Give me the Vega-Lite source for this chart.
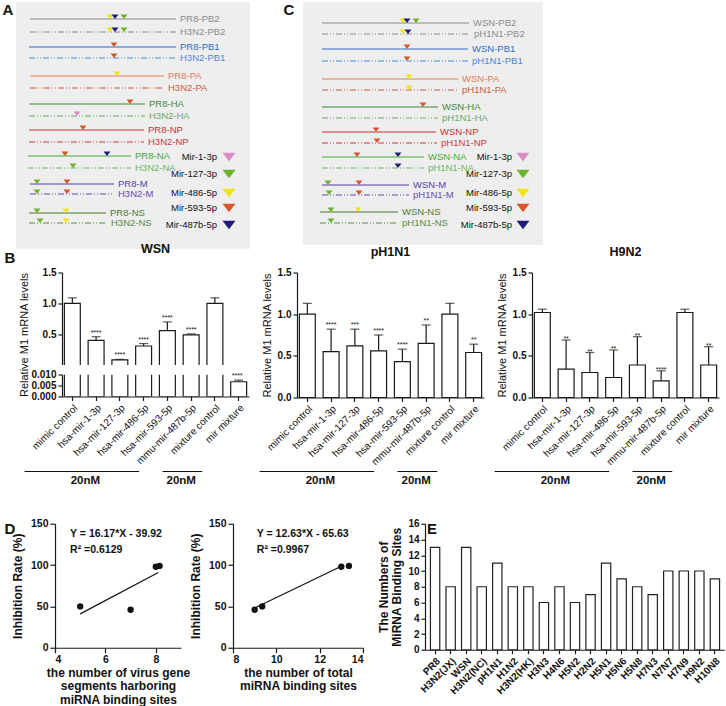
{
"$schema":"https://vega.github.io/schema/vega-lite/v6.json",
"padding":{"left":0,"top":2,"right":0,"bottom":0},
"background":"white",
"config":{
 "font":"Liberation Sans",
 "view":{"stroke":null},
 "axis":{"grid":false,"domainColor":"#1a1a1a","tickColor":"#1a1a1a","labelColor":"#111111","titleColor":"#111111","domainWidth":1.2,"tickWidth":1.2,"tickSize":4,"labelFontSize":10,"labelFontWeight":"bold","titleFontSize":11,"titleFontWeight":"normal","labelPadding":2,"labelOverlap":false},
 "title":{"fontSize":12.5,"fontWeight":"bold","color":"#111111"},
 "text":{"color":"#111111"}
},
"datasets":{
 "segA":[
  {"label":"PR8-PB2","strain":"PR8","start":14,"end":160,"lane":17},
  {"label":"H3N2-PB2","strain":"H3N2","start":14,"end":160,"lane":30},
  {"label":"PR8-PB1","strain":"PR8","start":13,"end":160,"lane":45},
  {"label":"H3N2-PB1","strain":"H3N2","start":13,"end":160,"lane":56},
  {"label":"PR8-PA","strain":"PR8","start":14,"end":148,"lane":74},
  {"label":"H3N2-PA","strain":"H3N2","start":14,"end":148,"lane":86},
  {"label":"PR8-HA","strain":"PR8","start":13,"end":129,"lane":102},
  {"label":"H3N2-HA","strain":"H3N2","start":13,"end":129,"lane":114},
  {"label":"PR8-NP","strain":"PR8","start":13,"end":128,"lane":128},
  {"label":"H3N2-NP","strain":"H3N2","start":13,"end":128,"lane":140},
  {"label":"PR8-NA","strain":"PR8","start":12,"end":115,"lane":154},
  {"label":"H3N2-NA","strain":"H3N2","start":12,"end":115,"lane":166},
  {"label":"PR8-M","strain":"PR8","start":14,"end":98,"lane":182},
  {"label":"H3N2-M","strain":"H3N2","start":14,"end":98,"lane":192},
  {"label":"PR8-NS","strain":"PR8","start":13,"end":90,"lane":211},
  {"label":"H3N2-NS","strain":"H3N2","start":13,"end":91,"lane":221}
 ],
 "triA":[
  {"lane":17,"pos":94,"mirna":"Mir-486-5p"},{"lane":17,"pos":108,"mirna":"Mir-127-3p"},{"lane":17,"pos":99,"mirna":"Mir-487b-5p"},
  {"lane":30,"pos":94,"mirna":"Mir-486-5p"},{"lane":30,"pos":108,"mirna":"Mir-127-3p"},{"lane":30,"pos":99,"mirna":"Mir-487b-5p"},
  {"lane":45,"pos":98,"mirna":"Mir-593-5p"},{"lane":56,"pos":98,"mirna":"Mir-593-5p"},
  {"lane":74,"pos":101,"mirna":"Mir-486-5p"},
  {"lane":102,"pos":114,"mirna":"Mir-593-5p"},{"lane":114,"pos":61,"mirna":"Mir-1-3p"},
  {"lane":128,"pos":67,"mirna":"Mir-593-5p"},
  {"lane":154,"pos":49,"mirna":"Mir-593-5p"},{"lane":154,"pos":91,"mirna":"Mir-487b-5p"},{"lane":166,"pos":57,"mirna":"Mir-127-3p"},
  {"lane":182,"pos":21,"mirna":"Mir-127-3p"},{"lane":182,"pos":51,"mirna":"Mir-593-5p"},
  {"lane":192,"pos":21,"mirna":"Mir-127-3p"},{"lane":192,"pos":51,"mirna":"Mir-593-5p"},
  {"lane":211,"pos":21,"mirna":"Mir-127-3p"},{"lane":211,"pos":50,"mirna":"Mir-486-5p"},
  {"lane":221,"pos":24,"mirna":"Mir-127-3p"},{"lane":221,"pos":50,"mirna":"Mir-486-5p"}
 ],
 "segC":[
  {"label":"WSN-PB2","strain":"WSN","start":19,"end":166,"lane":21},
  {"label":"pH1N1-PB2","strain":"pH1N1","start":19,"end":167,"lane":32},
  {"label":"WSN-PB1","strain":"WSN","start":19,"end":165,"lane":47},
  {"label":"pH1N1-PB1","strain":"pH1N1","start":19,"end":165,"lane":59},
  {"label":"WSN-PA","strain":"WSN","start":19,"end":155,"lane":77},
  {"label":"pH1N1-PA","strain":"pH1N1","start":19,"end":155,"lane":88},
  {"label":"WSN-HA","strain":"WSN","start":19,"end":135,"lane":105},
  {"label":"pH1N1-HA","strain":"pH1N1","start":19,"end":135,"lane":116},
  {"label":"WSN-NP","strain":"WSN","start":19,"end":133,"lane":130},
  {"label":"pH1N1-NP","strain":"pH1N1","start":19,"end":134,"lane":141},
  {"label":"WSN-NA","strain":"WSN","start":19,"end":121,"lane":155},
  {"label":"pH1N1-NA","strain":"pH1N1","start":19,"end":121,"lane":166},
  {"label":"WSN-M","strain":"WSN","start":19,"end":106,"lane":183},
  {"label":"pH1N1-M","strain":"pH1N1","start":19,"end":106,"lane":193},
  {"label":"WSN-NS","strain":"WSN","start":17,"end":95,"lane":210},
  {"label":"pH1N1-NS","strain":"pH1N1","start":17,"end":95,"lane":221}
 ],
 "triC":[
  {"lane":21,"pos":100,"mirna":"Mir-486-5p"},{"lane":21,"pos":113,"mirna":"Mir-127-3p"},{"lane":21,"pos":104,"mirna":"Mir-487b-5p"},
  {"lane":32,"pos":100,"mirna":"Mir-486-5p"},{"lane":32,"pos":105,"mirna":"Mir-487b-5p"},
  {"lane":47,"pos":104,"mirna":"Mir-593-5p"},{"lane":59,"pos":104,"mirna":"Mir-593-5p"},
  {"lane":77,"pos":106,"mirna":"Mir-486-5p"},{"lane":88,"pos":106,"mirna":"Mir-486-5p"},
  {"lane":105,"pos":120,"mirna":"Mir-593-5p"},
  {"lane":130,"pos":73,"mirna":"Mir-593-5p"},{"lane":141,"pos":74,"mirna":"Mir-593-5p"},
  {"lane":155,"pos":54,"mirna":"Mir-593-5p"},{"lane":155,"pos":95,"mirna":"Mir-487b-5p"},
  {"lane":166,"pos":95,"mirna":"Mir-487b-5p"},
  {"lane":183,"pos":25,"mirna":"Mir-127-3p"},{"lane":183,"pos":56,"mirna":"Mir-593-5p"},
  {"lane":193,"pos":26,"mirna":"Mir-127-3p"},{"lane":193,"pos":56,"mirna":"Mir-593-5p"},
  {"lane":210,"pos":28,"mirna":"Mir-127-3p"},{"lane":210,"pos":55,"mirna":"Mir-486-5p"},
  {"lane":221,"pos":28,"mirna":"Mir-127-3p"}
 ],
 "leg":[
  {"mirna":"Mir-1-3p","lane":155},{"mirna":"Mir-127-3p","lane":172},{"mirna":"Mir-486-5p","lane":191},{"mirna":"Mir-593-5p","lane":206},{"mirna":"Mir-487b-5p","lane":223}
 ],
 "wsn":[
  {"cat":"mimic control","val":1.0,"hi":1.09,"sig":""},
  {"cat":"hsa-mir-1-3p","val":0.40,"hi":0.46,"sig":"****"},
  {"cat":"hsa-mir-127-3p","val":0.085,"hi":0.092,"sig":"****"},
  {"cat":"hsa-mir-486-5p","val":0.31,"hi":0.35,"sig":"****"},
  {"cat":"hsa-mir-593-5p","val":0.56,"hi":0.70,"sig":"****"},
  {"cat":"mmu-mir-487b-5p","val":0.49,"hi":0.505,"sig":"****"},
  {"cat":"mixture control","val":1.0,"hi":1.09,"sig":""},
  {"cat":"mir mixture","val":0.0067,"hi":0.0074,"sig":"****"}
 ],
 "ph1n1":[
  {"cat":"mimic control","val":1.0,"hi":1.13,"sig":""},
  {"cat":"hsa-mir-1-3p","val":0.55,"hi":0.82,"sig":"****"},
  {"cat":"hsa-mir-127-3p","val":0.62,"hi":0.82,"sig":"***"},
  {"cat":"hsa-mir-486-5p","val":0.56,"hi":0.75,"sig":"****"},
  {"cat":"hsa-mir-593-5p","val":0.43,"hi":0.58,"sig":"****"},
  {"cat":"mmu-mir-487b-5p","val":0.65,"hi":0.87,"sig":"**"},
  {"cat":"mixture control","val":1.0,"hi":1.13,"sig":""},
  {"cat":"mir mixture","val":0.54,"hi":0.64,"sig":"**"}
 ],
 "h9n2":[
  {"cat":"mimic control","val":1.02,"hi":1.06,"sig":""},
  {"cat":"hsa-mir-1-3p","val":0.34,"hi":0.69,"sig":"**"},
  {"cat":"hsa-mir-127-3p","val":0.30,"hi":0.54,"sig":"**"},
  {"cat":"hsa-mir-486-5p","val":0.24,"hi":0.57,"sig":"**"},
  {"cat":"hsa-mir-593-5p","val":0.39,"hi":0.73,"sig":"**"},
  {"cat":"mmu-mir-487b-5p","val":0.20,"hi":0.32,"sig":"****"},
  {"cat":"mixture control","val":1.02,"hi":1.06,"sig":""},
  {"cat":"mir mixture","val":0.39,"hi":0.61,"sig":"**"}
 ],
 "conc":[
  {"from":-1.6,"to":3.3,"mid":1.0,"label":"20nM"},
  {"from":4.3,"to":6.0,"mid":5.1,"label":"20nM"}
 ],
 "d1pts":[{"x":5,"y":50},{"x":7,"y":46},{"x":8,"y":98},{"x":8.15,"y":99}],
 "d1fit":[{"x":5,"y":41},{"x":8.1,"y":91}],
 "d1txt":[{"x":4.6,"y":137,"t":"Y = 16.17*X - 39.92"},{"x":4.6,"y":118,"t":"R² =0.6129"}],
 "d2pts":[{"x":9,"y":46},{"x":9.35,"y":50},{"x":13,"y":98},{"x":13.35,"y":99}],
 "d2fit":[{"x":9,"y":48},{"x":13,"y":98.5}],
 "d2txt":[{"x":9.1,"y":137,"t":"Y = 12.63*X - 65.63"},{"x":9.1,"y":118,"t":"R² =0.9967"}],
 "e":[
  {"s":"PR8","n":13},{"s":"H3N2(JX)","n":8},{"s":"WSN","n":13},{"s":"H3N2(NC)","n":8},{"s":"pH1N1","n":11},{"s":"H1N2","n":8},{"s":"H3N2(HK)","n":8},{"s":"H3N3","n":6},{"s":"H4N6","n":8},{"s":"H5N2","n":6},{"s":"H2N2","n":7},{"s":"H5N1","n":11},{"s":"H5N6","n":9},{"s":"H5N8","n":8},{"s":"H7N3","n":7},{"s":"N7N7","n":10},{"s":"H7N9","n":10},{"s":"H9N2","n":10},{"s":"H10N8","n":9}
 ]
},
"vconcat":[
 {"vconcat":[
  {"hconcat":[
   {"width":16,"height":20,"data":{"values":[{"t":"A"}]},"mark":{"type":"text","fontSize":15,"fontWeight":"bold","dy":-2},"encoding":{"text":{"field":"t","type":"nominal"}}},
   {"width":234,"height":247,
    "view":{"fill":"#eeeeee","stroke":null},
    "layer":[
     {"data":{"name":"segA"},"mark":{"type":"rule","strokeWidth":1.2},
      "encoding":{
       "x":{"field":"start","type":"quantitative","scale":{"domain":[0,234],"nice":false,"zero":false},"axis":null},
       "x2":{"field":"end"},
       "y":{"field":"lane","type":"quantitative","scale":{"domain":[0,247],"nice":false,"zero":false,"reverse":true},"axis":null},
       "color":{"field":"label","type":"nominal","scale":{"domain":["PR8-PB2","H3N2-PB2","PR8-PB1","H3N2-PB1","PR8-PA","H3N2-PA","PR8-HA","H3N2-HA","PR8-NP","H3N2-NP","PR8-NA","H3N2-NA","PR8-M","H3N2-M","PR8-NS","H3N2-NS"],"range":["#8c8c8c","#8c8c8c","#2f6cc8","#4a88d8","#e27c5a","#cc5a3c","#3c8a3c","#6aaa6a","#c83232","#c43c3c","#46a83a","#6ab860","#5a3aa8","#6a48b4","#4a7a2e","#5a8a40"]},"legend":null},
       "strokeDash":{"field":"strain","type":"nominal","scale":{"domain":["PR8","H3N2"],"range":[[1,0],[6,2,1,2,1,2]]},"legend":null}}},
     {"data":{"name":"segA"},"mark":{"type":"text","align":"left","baseline":"middle","dx":4,"fontSize":9.5},
      "encoding":{"x":{"field":"end","type":"quantitative"},"y":{"field":"lane","type":"quantitative"},"text":{"field":"label","type":"nominal"},"color":{"field":"label","type":"nominal","legend":null}}},
     {"data":{"name":"triA"},"mark":{"type":"point","filled":true,"opacity":1,"strokeWidth":0,"shape":"M-1,-1.3L1,-1.3L0,0Z","size":49},
      "encoding":{"x":{"field":"pos","type":"quantitative"},"y":{"field":"lane","type":"quantitative"},"fill":{"field":"mirna","type":"nominal","scale":{"domain":["Mir-1-3p","Mir-127-3p","Mir-486-5p","Mir-593-5p","Mir-487b-5p"],"range":["#d98ec6","#6cb42c","#f0e21c","#d4582a","#1e1e78"]},"legend":null}}},
     {"data":{"name":"leg"},"mark":{"type":"text","align":"right","baseline":"middle","fontSize":9.5},
      "encoding":{"x":{"datum":201,"type":"quantitative"},"y":{"field":"lane","type":"quantitative"},"text":{"field":"mirna","type":"nominal"}}},
     {"data":{"name":"leg"},"mark":{"type":"point","filled":true,"opacity":1,"strokeWidth":0,"shape":"M-1,-0.65L1,-0.65L0,0.65Z","size":169},
      "encoding":{"x":{"datum":213,"type":"quantitative"},"y":{"field":"lane","type":"quantitative"},"fill":{"field":"mirna","type":"nominal","legend":null}}},
     {"data":{"values":[{"t":"C"}]},"mark":{"type":"text","fontSize":15,"fontWeight":"bold","baseline":"middle","align":"center","clip":false},
      "encoding":{"x":{"datum":273,"type":"quantitative"},"y":{"datum":8,"type":"quantitative"},"text":{"field":"t","type":"nominal"}}}
    ]},
   {"width":53,"height":20,"data":{"values":[{"t":""}]},"mark":{"type":"text"},"encoding":{"text":{"field":"t","type":"nominal"}}},
   {"width":240,"height":243,
    "view":{"fill":"#eeeeee","stroke":null},
    "layer":[
     {"data":{"name":"segC"},"mark":{"type":"rule","strokeWidth":1.1},
      "encoding":{
       "x":{"field":"start","type":"quantitative","scale":{"domain":[0,240],"nice":false,"zero":false},"axis":null},
       "x2":{"field":"end"},
       "y":{"field":"lane","type":"quantitative","scale":{"domain":[0,243],"nice":false,"zero":false,"reverse":true},"axis":null},
       "color":{"field":"label","type":"nominal","scale":{"domain":["WSN-PB2","pH1N1-PB2","WSN-PB1","pH1N1-PB1","WSN-PA","pH1N1-PA","WSN-HA","pH1N1-HA","WSN-NP","pH1N1-NP","WSN-NA","pH1N1-NA","WSN-M","pH1N1-M","WSN-NS","pH1N1-NS"],"range":["#c0392b","#c8403a","#b8941e","#b8941e","#c2d43a","#c2d43a","#4a8a5a","#4a8a5a","#3c4cb0","#3c4cb0","#6a3896","#6a3896","#b472c8","#9a50b4","#c8283c","#c8283c"]},"legend":null},
       "strokeDash":{"field":"strain","type":"nominal","scale":{"domain":["WSN","pH1N1"],"range":[[5,3],[1.5,1.5]]},"legend":null}}},
     {"data":{"name":"segC"},"mark":{"type":"text","align":"left","baseline":"middle","dx":4,"fontSize":9.5},
      "encoding":{"x":{"field":"end","type":"quantitative"},"y":{"field":"lane","type":"quantitative"},"text":{"field":"label","type":"nominal"},"color":{"field":"label","type":"nominal","legend":null}}},
     {"data":{"name":"triC"},"mark":{"type":"point","filled":true,"opacity":1,"strokeWidth":0,"shape":"M-1,-1.3L1,-1.3L0,0Z","size":49},
      "encoding":{"x":{"field":"pos","type":"quantitative"},"y":{"field":"lane","type":"quantitative"},"fill":{"field":"mirna","type":"nominal","scale":{"domain":["Mir-1-3p","Mir-127-3p","Mir-486-5p","Mir-593-5p","Mir-487b-5p"],"range":["#d98ec6","#6cb42c","#f0e21c","#d4582a","#1e1e78"]},"legend":null}}},
     {"data":{"name":"leg"},"mark":{"type":"text","align":"right","baseline":"middle","fontSize":9.5},
      "encoding":{"x":{"datum":209,"type":"quantitative"},"y":{"field":"lane","type":"quantitative"},"text":{"field":"mirna","type":"nominal"}}},
     {"data":{"name":"leg"},"mark":{"type":"point","filled":true,"opacity":1,"strokeWidth":0,"shape":"M-1,-0.65L1,-0.65L0,0.65Z","size":169},
      "encoding":{"x":{"datum":220,"type":"quantitative"},"y":{"field":"lane","type":"quantitative"},"fill":{"field":"mirna","type":"nominal","legend":null}}}
    ]}
  ],"spacing":0,"bounds":"flush"},
  {"hconcat":[
   {"width":14,"height":1,"data":{"values":[{"t":"B"}]},"mark":{"type":"text","fontSize":15,"fontWeight":"bold","dy":-15.5,"dx":3},"encoding":{"text":{"field":"t","type":"nominal"}}},
   {"width":187,"height":124,
    "title":{"text":"WSN","offset":10},
    "data":{"name":"wsn"},
    "layer":[
     {"encoding":{"x":{"field":"cat","type":"nominal","sort":null,"scale":{"domain":["mimic control","hsa-mir-1-3p","hsa-mir-127-3p","hsa-mir-486-5p","hsa-mir-593-5p","mmu-mir-487b-5p","mixture control","mir mixture"],"paddingInner":0.33,"paddingOuter":0.1},"axis":{"title":null,"labelAngle":-45,"labelFontSize":10,"labelFontWeight":"normal","zindex":1}}},
      "layer":[
       {"mark":{"type":"rule","color":"#1a1a1a","strokeWidth":1.2,"clip":true},
        "encoding":{"y":{"field":"val","type":"quantitative","scale":{"domain":[0,0.01],"range":[124,102],"nice":false},"axis":{"values":[0,0.005,0.01],"format":".3f","title":null,"orient":"left","zindex":1}},"y2":{"field":"hi"}}},
       {"mark":{"type":"bar","fill":"white","stroke":"#1a1a1a","strokeWidth":1.2,"clip":true},"encoding":{"y":{"field":"val","type":"quantitative"}}},
       {"mark":{"type":"tick","color":"#1a1a1a","thickness":1.2,"size":9,"clip":true},"encoding":{"y":{"field":"hi","type":"quantitative"}}}
      ]},
     {"layer":[
       {"data":{"values":[{"t":""}]},"mark":{"type":"rect","fill":"white"},"encoding":{"y":{"datum":1.62,"type":"quantitative","scale":{"domain":[0.01,1.5],"range":[92,0],"nice":false,"zero":false},"axis":{"values":[0.5,1,1.5],"format":".1f","title":"Relative M1 mRNA levels","titleY":62,"titlePadding":13,"orient":"left","zindex":1}},"y2":{"datum":-0.15}}},
       {"mark":{"type":"rule","color":"#1a1a1a","strokeWidth":1.2},"encoding":{"x":{"field":"cat","type":"nominal","sort":null,"scale":{"domain":["mimic control","hsa-mir-1-3p","hsa-mir-127-3p","hsa-mir-486-5p","hsa-mir-593-5p","mmu-mir-487b-5p","mixture control","mir mixture"],"paddingInner":0.33,"paddingOuter":0.1},"axis":null},"y":{"field":"val","type":"quantitative"},"y2":{"field":"hi"}}},
       {"transform":[{"filter":"datum.val >= 0.01"}],"mark":{"type":"bar","fill":"white","stroke":"#1a1a1a","strokeWidth":1.2},"encoding":{"x":{"field":"cat","type":"nominal","sort":null,"axis":null},"y":{"field":"val","type":"quantitative"},"y2":{"datum":-0.1}}},
       {"transform":[{"filter":"datum.val >= 0.01"}],"mark":{"type":"tick","color":"#1a1a1a","thickness":1.2,"size":9},"encoding":{"x":{"field":"cat","type":"nominal","sort":null,"axis":null},"y":{"field":"hi","type":"quantitative"}}},
       {"data":{"values":[{"t":""}]},"mark":{"type":"rect","fill":"white"},"encoding":{"y":{"datum":0.0,"type":"quantitative"},"y2":{"datum":-0.15}}},
       {"transform":[{"filter":"datum.val >= 0.01"}],"mark":{"type":"text","fontSize":7,"dy":-2,"baseline":"alphabetic"},"encoding":{"x":{"field":"cat","type":"nominal","sort":null,"axis":null},"y":{"field":"hi","type":"quantitative"},"text":{"field":"sig","type":"nominal"}}}
      ]},
     {"layer":[
       {"transform":[{"filter":"datum.val < 0.01"}],"mark":{"type":"text","fontSize":7,"dy":-2,"baseline":"alphabetic"},"encoding":{"x":{"field":"cat","type":"nominal","sort":null,"scale":{"domain":["mimic control","hsa-mir-1-3p","hsa-mir-127-3p","hsa-mir-486-5p","hsa-mir-593-5p","mmu-mir-487b-5p","mixture control","mir mixture"],"paddingInner":0.33,"paddingOuter":0.1},"axis":null},"y":{"field":"hi","type":"quantitative","scale":{"domain":[0,0.01],"range":[124,102],"nice":false},"axis":null},"text":{"field":"sig","type":"nominal"}}}
      ]},
     {"data":{"name":"conc"},
      "layer":[
       {"mark":{"type":"rule","color":"#111111","strokeWidth":1.2},"encoding":{"x":{"field":"from","type":"quantitative","scale":{"domain":[0,8],"nice":false,"zero":false},"axis":null},"x2":{"field":"to"},"y":{"datum":0,"type":"quantitative","scale":{"domain":[0,1],"range":[199,190]},"axis":null}}},
       {"mark":{"type":"text","fontSize":11.5,"fontWeight":"bold","baseline":"top","dy":3},"encoding":{"x":{"field":"mid","type":"quantitative"},"y":{"datum":0,"type":"quantitative"},"text":{"field":"label","type":"nominal"}}}
      ]}
    ],
    "resolve":{"scale":{"x":"independent","y":"independent"},"axis":{"x":"independent","y":"independent"}}
   },
   {"width":187,"height":125,
    "title":{"text":"pH1N1","offset":9},
    "data":{"name":"ph1n1"},
    "layer":[
     {"encoding":{"x":{"field":"cat","type":"nominal","sort":null,"scale":{"paddingInner":0.33,"paddingOuter":0.1},"axis":{"title":null,"labelAngle":-45,"labelFontSize":10,"labelFontWeight":"normal"}}},
      "layer":[
       {"mark":{"type":"rule","color":"#1a1a1a","strokeWidth":1.2},
        "encoding":{"y":{"field":"val","type":"quantitative","scale":{"domain":[0,1.5],"nice":false},"axis":{"values":[0,0.5,1,1.5],"format":".1f","title":"Relative M1 mRNA levels","titlePadding":5}},"y2":{"field":"hi"}}},
       {"mark":{"type":"bar","fill":"white","stroke":"#1a1a1a","strokeWidth":1.2},"encoding":{"y":{"field":"val","type":"quantitative"}}},
       {"mark":{"type":"tick","color":"#1a1a1a","thickness":1.2,"size":9},"encoding":{"y":{"field":"hi","type":"quantitative"}}},
       {"mark":{"type":"text","fontSize":7,"dy":-2,"baseline":"alphabetic"},"encoding":{"y":{"field":"hi","type":"quantitative"},"text":{"field":"sig","type":"nominal"}}}
      ]},
     {"data":{"name":"conc"},
      "layer":[
       {"mark":{"type":"rule","color":"#111111","strokeWidth":1.2},"encoding":{"x":{"field":"from","type":"quantitative","scale":{"domain":[0,8],"nice":false,"zero":false},"axis":null},"x2":{"field":"to"},"y":{"datum":0,"type":"quantitative","scale":{"domain":[0,1],"range":[199,190]},"axis":null}}},
       {"mark":{"type":"text","fontSize":11.5,"fontWeight":"bold","baseline":"top","dy":3},"encoding":{"x":{"field":"mid","type":"quantitative"},"y":{"datum":0,"type":"quantitative"},"text":{"field":"label","type":"nominal"}}}
      ]}
    ],
    "resolve":{"scale":{"x":"independent","y":"independent"},"axis":{"x":"independent","y":"independent"}}
   },
   {"width":187,"height":125,
    "title":{"text":"H9N2","offset":9},
    "data":{"name":"h9n2"},
    "layer":[
     {"encoding":{"x":{"field":"cat","type":"nominal","sort":null,"scale":{"paddingInner":0.33,"paddingOuter":0.1},"axis":{"title":null,"labelAngle":-45,"labelFontSize":10,"labelFontWeight":"normal"}}},
      "layer":[
       {"mark":{"type":"rule","color":"#1a1a1a","strokeWidth":1.2},
        "encoding":{"y":{"field":"val","type":"quantitative","scale":{"domain":[0,1.5],"nice":false},"axis":{"values":[0,0.5,1,1.5],"format":".1f","title":"Relative M1 mRNA levels","titlePadding":5}},"y2":{"field":"hi"}}},
       {"mark":{"type":"bar","fill":"white","stroke":"#1a1a1a","strokeWidth":1.2},"encoding":{"y":{"field":"val","type":"quantitative"}}},
       {"mark":{"type":"tick","color":"#1a1a1a","thickness":1.2,"size":9},"encoding":{"y":{"field":"hi","type":"quantitative"}}},
       {"mark":{"type":"text","fontSize":7,"dy":1,"baseline":"alphabetic"},"encoding":{"y":{"field":"hi","type":"quantitative"},"text":{"field":"sig","type":"nominal"}}}
      ]},
     {"data":{"name":"conc"},
      "layer":[
       {"mark":{"type":"rule","color":"#111111","strokeWidth":1.2},"encoding":{"x":{"field":"from","type":"quantitative","scale":{"domain":[0,8],"nice":false,"zero":false},"axis":null},"x2":{"field":"to"},"y":{"datum":0,"type":"quantitative","scale":{"domain":[0,1],"range":[199,190]},"axis":null}}},
       {"mark":{"type":"text","fontSize":11.5,"fontWeight":"bold","baseline":"top","dy":3},"encoding":{"x":{"field":"mid","type":"quantitative"},"y":{"datum":0,"type":"quantitative"},"text":{"field":"label","type":"nominal"}}}
      ]}
    ],
    "resolve":{"scale":{"x":"independent","y":"independent"},"axis":{"x":"independent","y":"independent"}}
   }
  ],"spacing":48,"bounds":"flush"}
 ],"spacing":-6.5},
 {"hconcat":[
  {"width":55,"height":1,"data":{"values":[{"t":"D"}]},"mark":{"type":"text","fontSize":15,"fontWeight":"bold","dy":4.5,"dx":-17.5},"encoding":{"text":{"field":"t","type":"nominal"}}},
  {"width":126,"height":124,
   "layer":[
    {"data":{"name":"d1fit"},"mark":{"type":"line","color":"#111111","strokeWidth":1.2},
     "encoding":{"x":{"field":"x","type":"quantitative","scale":{"domain":[4,9],"nice":false,"zero":false},"axis":{"values":[4,5,6,7,8,9],"labelOverlap":false,"labelFontSize":10.5,"tickSize":5,"title":["the number of virus gene","segments harboring","miRNA binding sites"],"titleFontSize":12,"titleFontWeight":"bold","titleLineHeight":13.5,"titlePadding":2}},
      "y":{"field":"y","type":"quantitative","scale":{"domain":[0,150],"nice":false},"axis":{"values":[0,50,100,150],"labelOverlap":false,"labelFontSize":10.5,"tickSize":5,"title":"Inhibition Rate (%)","titleFontSize":12,"titleFontWeight":"bold","titlePadding":6}}}},
    {"data":{"name":"d1pts"},"mark":{"type":"point","filled":true,"color":"#111111","size":40,"opacity":1},"encoding":{"x":{"field":"x","type":"quantitative"},"y":{"field":"y","type":"quantitative"}}},
    {"data":{"name":"d1txt"},"mark":{"type":"text","align":"left","baseline":"middle","fontWeight":"bold","fontSize":10.5},"encoding":{"x":{"field":"x","type":"quantitative"},"y":{"field":"y","type":"quantitative"},"text":{"field":"t","type":"nominal"}}}
   ]},
  {"width":52,"height":1,"data":{"values":[{"t":""}]},"mark":{"type":"text"},"encoding":{"text":{"field":"t","type":"nominal"}}},
  {"width":130,"height":124,
   "layer":[
    {"data":{"name":"d2fit"},"mark":{"type":"line","color":"#111111","strokeWidth":1.2},
     "encoding":{"x":{"field":"x","type":"quantitative","scale":{"domain":[8,14],"nice":false,"zero":false},"axis":{"values":[8,9,10,11,12,13,14],"labelOverlap":false,"labelFontSize":10.5,"tickSize":5,"title":["the number of  total","miRNA binding sites"],"titleFontSize":12,"titleFontWeight":"bold","titleLineHeight":13.5,"titlePadding":2}},
      "y":{"field":"y","type":"quantitative","scale":{"domain":[0,150],"nice":false},"axis":{"values":[0,50,100,150],"labelOverlap":false,"labelFontSize":10.5,"tickSize":5,"title":"Inhibition Rate (%)","titleFontSize":12,"titleFontWeight":"bold","titlePadding":6}}}},
    {"data":{"name":"d2pts"},"mark":{"type":"point","filled":true,"color":"#111111","size":40,"opacity":1},"encoding":{"x":{"field":"x","type":"quantitative"},"y":{"field":"y","type":"quantitative"}}},
    {"data":{"name":"d2txt"},"mark":{"type":"text","align":"left","baseline":"middle","fontWeight":"bold","fontSize":10.5},"encoding":{"x":{"field":"x","type":"quantitative"},"y":{"field":"y","type":"quantitative"},"text":{"field":"t","type":"nominal"}}}
   ]},
  {"width":62,"height":1,"data":{"values":[{"t":"E"}]},"mark":{"type":"text","fontSize":15,"fontWeight":"bold","dy":4.5,"dx":38},"encoding":{"text":{"field":"t","type":"nominal"}}},
  {"width":300,"height":126,
   "data":{"name":"e"},
   "mark":{"type":"bar","fill":"white","stroke":"#222222","strokeWidth":1.2},
   "encoding":{
    "x":{"field":"s","type":"nominal","sort":null,"scale":{"paddingInner":0.4,"paddingOuter":0.35},"axis":{"title":null,"labelAngle":-45,"labelFontSize":10}},
    "y":{"field":"n","type":"quantitative","scale":{"domain":[0,16],"nice":false},"axis":{"values":[0,2,4,6,8,10,12,14,16],"title":["The Numbers of","MiRNA Binding Sites"],"titleFontSize":12,"titleFontWeight":"bold","titleLineHeight":13}}}}
 ],"spacing":0,"bounds":"flush"}
],
"spacing":31.75
}
